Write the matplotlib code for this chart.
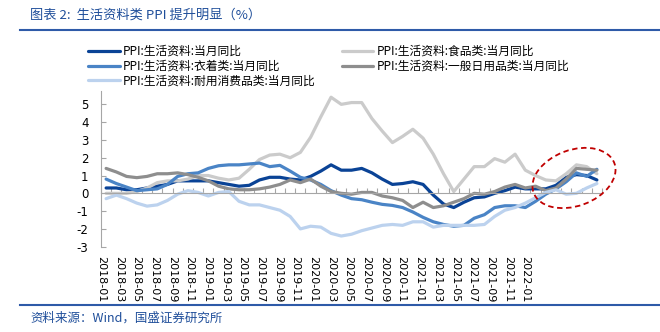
import numpy as np
import pandas as pd
import matplotlib.pyplot as plt
from matplotlib.lines import Line2D
from matplotlib.patches import Ellipse

plt.rcParams['font.family'] = ['Noto Sans CJK SC', 'DejaVu Sans']
plt.rcParams['axes.unicode_minus'] = False

# monthly YoY (%), 2018-01 .. 2022-01
months = pd.date_range('2018-01-01', '2022-01-01', freq='MS').strftime('%Y-%m').tolist()

consumer = [0.3, 0.3, 0.2, 0.2, 0.3, 0.4, 0.5, 0.7, 0.7, 0.7, 0.7, 0.6,
            0.5, 0.4, 0.45, 0.75, 0.9, 0.9, 0.8, 0.75, 0.95, 1.25, 1.6, 1.3,
            1.3, 1.4, 1.15, 0.8, 0.5, 0.55, 0.65, 0.5, -0.1, -0.6, -0.8, -0.5,
            -0.25, -0.2, 0.0, 0.15, 0.35, 0.25, 0.25, 0.25, 0.45, 0.9, 1.05, 1.0,
            0.75]
food = [0.0, 0.0, 0.0, 0.1, 0.3, 0.6, 0.7, 0.7, 0.8, 1.0, 1.0, 0.85,
        0.75, 0.85, 1.35, 1.9, 2.15, 2.2, 2.0, 2.3, 3.15, 4.3, 5.4, 5.0,
        5.1, 5.1, 4.2, 3.5, 2.85, 3.2, 3.6, 3.1, 2.2, 1.1, 0.1, 0.8,
        1.5, 1.5, 1.95, 1.75, 2.2, 1.3, 1.0, 0.75, 0.7, 1.1, 1.6, 1.5,
        1.1]
clothing = [0.8, 0.55, 0.35, 0.15, 0.2, 0.25, 0.5, 0.95, 1.1, 1.15, 1.4, 1.55,
            1.6, 1.6, 1.65, 1.7, 1.5, 1.57, 1.25, 0.9, 0.75, 0.5, 0.15, -0.1,
            -0.3, -0.36, -0.5, -0.62, -0.68, -0.8, -1.05, -1.35, -1.6, -1.75, -1.85, -1.8,
            -1.4, -1.2, -0.8, -0.7, -0.7, -0.8, -0.45, -0.05, 0.25, 0.65, 1.15, 0.95,
            1.35]
daily = [1.4, 1.2, 0.95, 0.88, 0.95, 1.1, 1.1, 1.15, 1.05, 0.9, 0.7, 0.4,
         0.25, 0.2, 0.2, 0.25, 0.35, 0.5, 0.75, 0.6, 0.8, 0.4, 0.1, 0.0,
         -0.05, 0.05, 0.05, -0.15, -0.25, -0.4, -0.8, -0.5, -0.8, -0.7, -0.5, -0.3,
         0.0, -0.05, 0.1, 0.35, 0.5, 0.3, 0.4, 0.15, 0.3, 0.8, 1.4, 1.35,
         1.3]
durable = [-0.3, -0.1, -0.3, -0.55, -0.72, -0.65, -0.4, -0.05, 0.15, 0.05, -0.15, 0.05,
           0.1, -0.45, -0.65, -0.65, -0.8, -0.95, -1.3, -2.0, -1.85, -1.9, -2.25, -2.4,
           -2.3, -2.1, -1.95, -1.8, -1.75, -1.8, -1.6, -1.6, -1.9, -1.8, -1.8, -1.8,
           -1.8, -1.75, -1.3, -0.95, -0.8, -0.55, -0.25, 0.05, 0.2, -0.05, 0.0, 0.3,
           0.55]

names = ['PPI:生活资料:当月同比', 'PPI:生活资料:食品类:当月同比', 'PPI:生活资料:衣着类:当月同比',
         'PPI:生活资料:一般日用品类:当月同比', 'PPI:生活资料:耐用消费品类:当月同比']
colors = ['#0A4396', '#CBCBCB', '#4A84C6', '#8E8E8E', '#BCD2EE']
series = [consumer, food, clothing, daily, durable]

fig = plt.figure(figsize=(6.6, 3.32), dpi=100)
ax = fig.add_axes([101 / 660, 85.3 / 332, 501 / 660, 155.7 / 332])

x = np.arange(len(months))
lines = []
for vals, name, c in zip(series, names, colors):
    ln, = ax.plot(x, vals, color=c, lw=2.3, label=name, solid_capstyle='round')
    lines.append(ln)

ax.set_xlim(-0.5, len(months) - 0.5)
ax.set_ylim(-3, 5.75)
ax.set_yticks(range(-3, 6))
ax.tick_params(axis='y', direction='in', length=3.5, color='#A6A6A6', pad=9, labelsize=8.5)
for t in ax.get_yticklabels():
    t.set_fontfamily('DejaVu Sans')

# category axis drawn at zero with ticks between months
for s in ['top', 'right']:
    ax.spines[s].set_visible(False)
ax.spines['left'].set_color('#A6A6A6')
ax.spines['bottom'].set_position(('data', 0))
ax.spines['bottom'].set_color('#A6A6A6')
ax.set_xticks(np.arange(-0.5, len(months), 1))
ax.tick_params(axis='x', direction='in', length=3.5, color='#A6A6A6', labelbottom=False)

# date labels every two months along the bottom
lab_txt = months[::2]
lab_pos = -0.5 + 1.7294 * np.arange(len(lab_txt))
sec = ax.secondary_xaxis('bottom')
sec.set_xticks(lab_pos, labels=lab_txt, rotation=-90, fontsize=8, fontfamily='DejaVu Sans')
sec.tick_params(length=0, pad=7)
sec.spines['bottom'].set_visible(False)

order = [0, 2, 4, 1, 3]
fig.legend([lines[i] for i in order], [names[i] for i in order], loc='upper left',
           bbox_to_anchor=(88 / 660, 1 - 45 / 332), ncol=2, frameon=False, fontsize=8.5,
           handlelength=2.7, handletextpad=0.25, columnspacing=2.2, labelspacing=0.15,
           borderpad=0, borderaxespad=0)

# header / footer
fig.text(30 / 660, 1 - 15 / 332, '图表 2:  生活资料类 PPI 提升明显（%）', fontsize=9.5,
         color='#1F4E9A', va='center', style='italic')
fig.add_artist(Line2D([20 / 660, 1], [1 - 30 / 332] * 2, color='#2E5AA8', lw=1.5))
fig.add_artist(Line2D([20 / 660, 1], [1 - 304.5 / 332] * 2, color='#2E5AA8', lw=1.5))
fig.text(30 / 660, 1 - 318 / 332, '资料来源：Wind，国盛证券研究所', fontsize=9,
         color='#1F4E9A', va='center', style='italic')

fig.add_artist(Ellipse((5.74, 1.54), 0.86, 0.56, angle=20, transform=fig.dpi_scale_trans,
                       fill=False, edgecolor='#C00000', lw=1.3, linestyle=(0, (3, 2))))

fig.savefig('out.png', dpi=100)
